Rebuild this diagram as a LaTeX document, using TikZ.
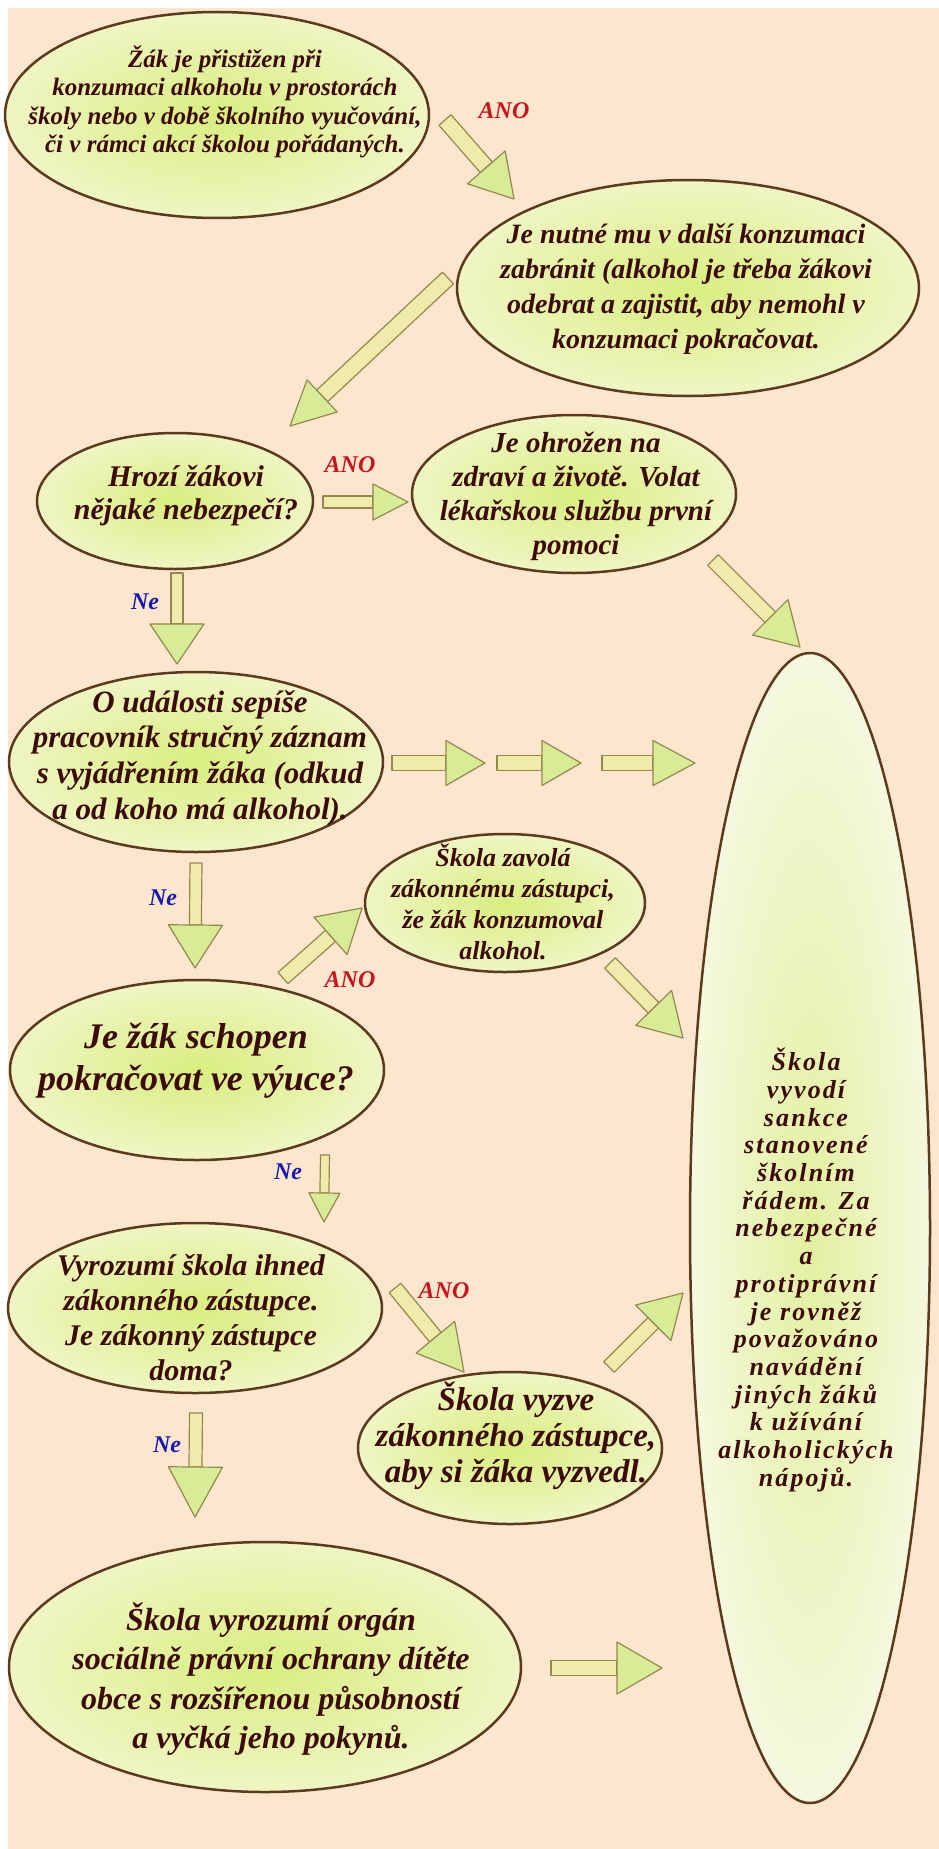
\documentclass[tikz,border=0pt]{standalone}
\usepackage{fontspec}
\setmainfont{Liberation Serif}
\newfontfamily\spacedfont{Liberation Serif}[LetterSpace=8]
\usetikzlibrary{shapes.geometric,calc}
\definecolor{peach}{RGB}{252,230,205}
\definecolor{rim}{RGB}{92,58,30}
\definecolor{ink}{RGB}{60,10,8}
\definecolor{lime}{RGB}{216,238,128}
\definecolor{pale}{RGB}{240,245,196}
\definecolor{biglime}{RGB}{226,240,160}
\definecolor{bigpale}{RGB}{246,248,222}
\definecolor{shaftc}{RGB}{240,235,170}
\definecolor{headc}{RGB}{216,236,152}
\definecolor{arrowrim}{RGB}{150,135,80}
\definecolor{anored}{RGB}{200,20,30}
\definecolor{neblue}{RGB}{25,25,170}
\tikzset{
  oval/.style={ellipse, draw=rim, line width=2.5pt, inner color=lime, outer color=pale, inner sep=0pt},
  bigoval/.style={ellipse, draw=rim, line width=2.5pt, inner color=biglime, outer color=bigpale, inner sep=0pt},
  txt/.style n args={2}{text=ink, align=center, inner sep=0pt, font=\fontsize{#1}{#2}\selectfont\bfseries\itshape},
  lab/.style={inner sep=0pt, font=\fontsize{24}{26}\selectfont\bfseries\itshape},
  ano/.style={lab, text=anored},
  ne/.style={lab, text=neblue},
  shaftst/.style={fill=shaftc, draw=arrowrim, line width=1.2pt, line join=round},
  headst/.style={fill=headc, draw=arrowrim, line width=1.2pt, line join=round},
}
\newcommand\barrow[5]{%
  \path (#1) coordinate (bA) (#2) coordinate (bB);
  \coordinate (bC) at ($(bB)!#5pt!(bA)$);
  \draw[shaftst] ($(bA)!#3pt!90:(bB)$) -- ($(bC)!#3pt!90:(bB)$) -- ($(bC)!#3pt!-90:(bB)$) -- ($(bA)!#3pt!-90:(bB)$) -- cycle;
  \draw[headst] ($(bC)!#4pt!90:(bB)$) -- (bB) -- ($(bC)!#4pt!-90:(bB)$) -- cycle;
}
\begin{document}
\begin{tikzpicture}[x=1pt,y=-1pt]
\useasboundingbox (0,0) rectangle (939,1849);
\fill[white] (0,0) rectangle (939,1849);
\fill[peach] (8,8) rectangle (939,1849);

% ellipses
\node[oval, minimum width=424pt, minimum height=206pt] (e1) at (217,115) {};
\node[oval, minimum width=462pt, minimum height=216pt] (e2) at (688,288) {};
\node[oval, minimum width=276pt, minimum height=136pt] (e3) at (175,501) {};
\node[oval, minimum width=324pt, minimum height=158pt] (e4) at (574,494) {};
\node[oval, minimum width=374pt, minimum height=180pt] (e5) at (196,762) {};
\node[oval, minimum width=280pt, minimum height=138pt] (e6) at (505,903) {};
\node[oval, minimum width=374pt, minimum height=180pt] (e7) at (197,1070) {};
\node[oval, minimum width=374pt, minimum height=170pt] (e8) at (195,1308) {};
\node[oval, minimum width=304pt, minimum height=152pt] (e9) at (510,1448) {};
\node[oval, minimum width=512pt, minimum height=250pt] (e10) at (265,1667) {};
\node[bigoval, minimum width=240pt, minimum height=1150pt] (big) at (810,1228) {};

% texts
\node[txt={25}{28.5}] (t1) at (225,102) {Žák je přistižen při\\konzumaci alkoholu v prostorách\\školy nebo v době školního vyučování,\\či v rámci akcí školou pořádaných.};
\node[txt={28}{35}] (t2) at (686,289) {Je nutné mu v další konzumaci\\zabránit (alkohol je třeba žákovi\\odebrat a zajistit, aby nemohl v\\konzumaci pokračovat.};
\node[txt={30}{33}] (t3) at (186,496) {Hrozí žákovi\\nějaké nebezpečí?};
\node[txt={29}{34}] (t4) at (576,496) {Je ohrožen na\\zdraví a životě. Volat\\lékařskou službu první\\pomoci};
\node[txt={31}{35.7}] (t5) at (200,758) {O události sepíše\\pracovník stručný záznam\\s vyjádřením žáka (odkud\\a od koho má alkohol).};
\node[txt={26}{31}] (t6) at (503,902) {Škola zavolá\\zákonnému zástupci,\\že žák konzumoval\\alkohol.};
\node[txt={36}{42}] (t7) at (196,1061) {Je žák schopen\\pokračovat ve výuce?};
\node[txt={30}{35}] (t8) at (191,1318) {Vyrozumí škola ihned\\zákonného zástupce.\\Je zákonný zástupce\\doma?};
\node[txt={33}{36}] (t9) at (516,1436) {Škola vyzve\\zákonného zástupce,\\aby si žáka vyzvedl.};
\node[txt={32}{39.5}] (t10) at (271,1679) {Škola vyrozumí orgán\\sociálně právní ochrany dítěte\\obce s rozšířenou působností\\a vyčká jeho pokynů.};
\node[text=ink, align=center, inner sep=0pt, font=\fontsize{26}{27.7}\selectfont\spacedfont\bfseries\itshape] (tb) at (806,1270) {Škola\\vyvodí\\sankce\\stanovené\\školním\\řádem. Za\\nebezpečné\\a\\protiprávní\\je rovněž\\považováno\\navádění\\jiných žáků\\k užívání\\alkoholických\\nápojů.};

% arrow end points
\coordinate (a1s) at (445,120);  \coordinate (a1t) at (514,199);
\coordinate (a2s) at (448,278);  \coordinate (a2t) at (290,426);
\coordinate (a3s) at (323,502);  \coordinate (a3t) at (408,502);
\coordinate (a4s) at (177,573);  \coordinate (a4t) at (177,664);
\coordinate (a5s) at (713,560);  \coordinate (a5t) at (800,647);
\coordinate (a6s) at (392,763);  \coordinate (a6t) at (485,763);
\coordinate (a7s) at (497,763);  \coordinate (a7t) at (581,763);
\coordinate (a8s) at (602,763);  \coordinate (a8t) at (695,763);
\coordinate (a9s) at (196,863);  \coordinate (a9t) at (195,968);
\coordinate (a10s) at (283,978); \coordinate (a10t) at (362,908);
\coordinate (a11s) at (610,963); \coordinate (a11t) at (683,1038);
\coordinate (a12s) at (325,1155);\coordinate (a12t) at (324,1222);
\coordinate (a13s) at (395,1288);\coordinate (a13t) at (464,1372);
\coordinate (a14s) at (609,1367);\coordinate (a14t) at (683,1293);
\coordinate (a15s) at (196,1413);\coordinate (a15t) at (195,1517);
\coordinate (a16s) at (551,1668);\coordinate (a16t) at (662,1668);

\barrow{a1s}{a1t}{8}{25}{42}
\barrow{a2s}{a2t}{8}{22}{44}
\barrow{a3s}{a3t}{6}{18}{35}
\barrow{a4s}{a4t}{6}{27}{40}
\barrow{a5s}{a5t}{7.5}{25}{42}
\barrow{a6s}{a6t}{7.5}{22.5}{39}
\barrow{a7s}{a7t}{7.5}{22.5}{39}
\barrow{a8s}{a8t}{7.5}{22.5}{42}
\barrow{a9s}{a9t}{6}{27}{43}
\barrow{a10s}{a10t}{7.5}{25}{42}
\barrow{a11s}{a11t}{7.5}{25}{42}
\barrow{a12s}{a12t}{4.5}{15.5}{29}
\barrow{a13s}{a13t}{7.5}{25}{45}
\barrow{a14s}{a14t}{7.5}{25}{42}
\barrow{a15s}{a15t}{6.5}{27}{50}
\barrow{a16s}{a16t}{7.5}{26}{45}

% labels
\node[ano] (l1) at (504,111) {ANO};
\node[ano] (l2) at (350,465) {ANO};
\node[ne]  (l3) at (145,602) {Ne};
\node[ne]  (l4) at (163,898) {Ne};
\node[ano] (l5) at (350,980) {ANO};
\node[ne]  (l6) at (288,1172) {Ne};
\node[ano] (l7) at (444,1291) {ANO};
\node[ne]  (l8) at (167,1445) {Ne};
\end{tikzpicture}
\end{document}
